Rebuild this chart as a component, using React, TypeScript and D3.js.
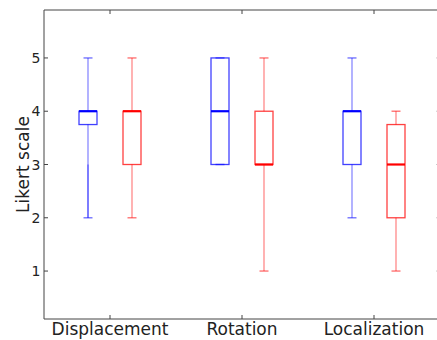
import React from 'react';
import * as d3 from 'd3';

// Likert ratings, one box per condition and group
const categories = ['Displacement', 'Rotation', 'Localization'];
const groups = ['blue', 'red'];
const groupColors = ['#0000ff', '#ff0000'];

// five-number summaries: [low, q1, median, q3, high]
const blueLow = [2, 3, 2];
const blueQ1 = [3.75, 3, 3];
const blueMedian = [4, 4, 4];
const blueQ3 = [4, 5, 4];
const blueHigh = [5, 5, 5];

const redLow = [2, 1, 1];
const redQ1 = [3, 3, 2];
const redMedian = [4, 3, 3];
const redQ3 = [4, 4, 3.75];
const redHigh = [5, 5, 4];

// a whisker stretch that is drawn twice in the original (darker)
const blueOverlap: ([number, number] | null)[] = [[3, 2], null, null];

const yTicks = [1, 2, 3, 4, 5];

const W = 437;
const H = 340;
const margin = { top: 10, right: -3, bottom: 21, left: 44 };
const FONT = 'DejaVu Sans, sans-serif';

export default function App() {
  const x = d3.scaleBand<string>()
    .domain(categories)
    .range([margin.left, W - margin.right])
    .padding(0);
  const sub = d3.scalePoint<string>().domain(groups).range([-22, 22]);
  const y = d3.scaleLinear().domain([0.1, 5.9]).range([H - margin.bottom, margin.top]);

  const boxW = 18;
  const capW = 9;
  const x0 = margin.left;
  const x1 = W - margin.right;
  const yTop = margin.top;
  const yBot = H - margin.bottom;

  const stats = [
    { low: blueLow, q1: blueQ1, med: blueMedian, q3: blueQ3, high: blueHigh },
    { low: redLow, q1: redQ1, med: redMedian, q3: redQ3, high: redHigh },
  ];

  const axisColor = '#444';

  return (
    <svg width={W} height={H} style={{ position: 'fixed', left: 0, top: 0, background: '#fff' }}>
      <rect x={0} y={0} width={W} height={H} fill="#fff" />

      {/* boxes */}
      {categories.map((cat, ci) =>
        groups.map((g, gi) => {
          const s = stats[gi];
          const cx = (x(cat) ?? 0) + x.bandwidth() / 2 + (sub(g) ?? 0);
          const color = groupColors[gi];
          const ov = gi === 0 ? blueOverlap[ci] : null;
          return (
            <g key={cat + g}>
              <line x1={cx} x2={cx} y1={y(s.q3[ci])} y2={y(s.high[ci])} stroke={color} strokeOpacity={0.5} strokeWidth={1.2} />
              <line x1={cx} x2={cx} y1={y(s.q1[ci])} y2={y(s.low[ci])} stroke={color} strokeOpacity={0.5} strokeWidth={1.2} />
              {ov && (
                <line x1={cx} x2={cx} y1={y(ov[0])} y2={y(ov[1])} stroke={color} strokeOpacity={0.5} strokeWidth={1.2} />
              )}
              <line x1={cx - capW / 2} x2={cx + capW / 2} y1={y(s.high[ci])} y2={y(s.high[ci])} stroke={color} strokeOpacity={0.5} strokeWidth={1.5} />
              <line x1={cx - capW / 2} x2={cx + capW / 2} y1={y(s.low[ci])} y2={y(s.low[ci])} stroke={color} strokeOpacity={0.5} strokeWidth={1.5} />
              <rect
                x={cx - boxW / 2}
                y={y(s.q3[ci])}
                width={boxW}
                height={y(s.q1[ci]) - y(s.q3[ci])}
                fill="none"
                stroke={color}
                strokeOpacity={0.75}
                strokeWidth={1.3}
              />
              <line x1={cx - boxW / 2} x2={cx + boxW / 2} y1={y(s.med[ci])} y2={y(s.med[ci])} stroke={color} strokeWidth={2.2} />
            </g>
          );
        })
      )}

      {/* spines: left, top, bottom (right one falls just past the crop) */}
      <line x1={x0} x2={x0} y1={yTop} y2={yBot} stroke={axisColor} />
      <line x1={x0} x2={W} y1={yTop} y2={yTop} stroke={axisColor} />
      <line x1={x0} x2={W} y1={yBot} y2={yBot} stroke={axisColor} />

      {/* y ticks */}
      {yTicks.map((t) => (
        <g key={t}>
          <line x1={x0} x2={x0 + 4} y1={y(t)} y2={y(t)} stroke={axisColor} />
          <line x1={x1} x2={x1 - 4} y1={y(t)} y2={y(t)} stroke="#ccc" />
          <text x={x0 - 3.5} y={y(t)} dy="0.36em" textAnchor="end" fontFamily={FONT} fontSize={14} fill="#222">
            {t}
          </text>
        </g>
      ))}

      {/* x ticks */}
      {categories.map((cat) => {
        const cx = (x(cat) ?? 0) + x.bandwidth() / 2;
        return (
          <g key={cat}>
            <line x1={cx} x2={cx} y1={yBot} y2={yBot - 4} stroke={axisColor} />
            <line x1={cx} x2={cx} y1={yTop} y2={yTop + 4} stroke={axisColor} />
            <text x={cx} y={yBot + 16} textAnchor="middle" fontFamily={FONT} fontSize={17} fill="#222">
              {cat}
            </text>
          </g>
        );
      })}

      <text
        transform={`translate(29,${(yTop + yBot) / 2}) rotate(-90)`}
        textAnchor="middle"
        fontFamily={FONT}
        fontSize={17}
        fill="#222"
      >
        Likert scale
      </text>
    </svg>
  );
}
